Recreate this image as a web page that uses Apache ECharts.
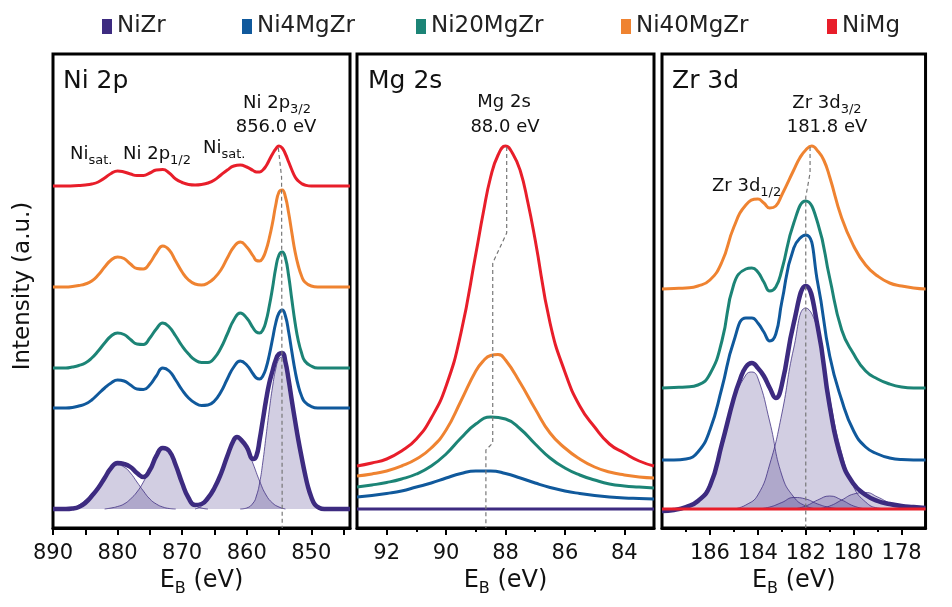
<!DOCTYPE html>
<html>
<head>
<meta charset="utf-8">
<script src="https://cdn.jsdelivr.net/npm/echarts@6/dist/echarts.min.js"></script>
<style>
  html, body { margin: 0; padding: 0; background: #fff; }
  #chart { width: 952px; height: 607px; }
</style>
</head>
<body>
<div id="chart"></div>
<script>
// ---- data: [binding energy (eV), intensity (a.u.)] ----
const sampleNames = ['NiZr', 'Ni4MgZr', 'Ni20MgZr', 'Ni40MgZr', 'NiMg'];
const sampleColors = ['#3d2b80', '#10599c', '#1c8476', '#ef8331', '#e81e2a'];

// Ni 2p
const ni2pNiZr = [[890,19],[888,19],[887,19.5],[886,21],[885,25],[884,32],[883,40],[882,50],[881,60],[880,65],[879,64],[878,61],[877,55],[876,51],[875,58],[874,72],[873,80],[872,77],[871,63],[870,45],[869,30],[868,23],[867,24],[866,30],[865,40],[864,54],[863,72],[862,88],[861.5,91],[861,89],[860,81],[859,69],[858.5,72],[858,88],[857.5,108],[857,128],[856.5,145],[856,157],[855.5,168],[855,174],[854.5,175],[854,166],[853.5,148],[853,127],[852.5,107],[852,88],[851.5,71],[851,55],[850.5,41],[850,31],[849.5,24],[849,21],[848,19],[844,19]];
const ni2pNi4 = [[890,120],[888,120],[887,120.5],[886,122],[885,124],[884,128],[883,134],[882,140],[881,145],[880,148],[879,147],[878,143],[877,139],[876,138.5],[875,143],[874,152],[873,160],[872,157],[871,148],[870,138],[869,130],[868,125],[867,122.5],[866,123],[865,127],[864,136],[863,149],[862,161],[861,167],[860,163],[859,154],[858.5,150],[858,149],[857.5,152],[857,160],[856.5,173],[856,189],[855.5,205],[855,215],[854.5,218],[854,212],[853.5,196],[853,176],[852.5,157],[852,142],[851.5,132],[851,126],[850,121.5],[849,120],[844,120]];
const ni2pNi20 = [[890,160],[888,160],[887,161],[886,162.5],[885,165],[884,170],[883,177],[882,185],[881,192],[880,195],[879,193.5],[878,188.5],[877,184],[876,183.5],[875,190],[874,199],[873,205],[872,201],[871,192],[870,182],[869,174],[868,168],[867,165.5],[866,165.5],[865,170],[864,180],[863,194],[862,208],[861,215],[860,210],[859,200],[858.5,196],[858,195],[857.5,198],[857,207],[856.5,222],[856,240],[855.5,260],[855,273],[854.5,276],[854,270],[853.5,252],[853,228],[852.5,205],[852,187],[851.5,175],[851,167],[850,162],[849,160],[844,160]];
const ni2pNi40 = [[890,241],[888,241],[887,241.5],[886,242.5],[885,244],[884,247],[883,253],[882,261],[881,268],[880,271],[879,269.5],[878,264],[877,259.5],[876,259],[875,265],[874,275],[873,282],[872,278],[871,267],[870,256],[869,248],[868,244],[867,243],[866,245],[865,250],[864,258],[863,270],[862,281],[861,286],[860,281],[859,272],[858.5,267.5],[858,267],[857.5,270],[857,278],[856.5,290],[856,305],[855.5,323],[855,336],[854.5,338],[854,331],[853.5,315],[853,295],[852.5,276],[852,262],[851.5,252],[851,246],[850,242],[849,241],[844,241]];
const ni2pNiMg = [[890,342],[888,342],[886,342.5],[885,343],[884,344],[883,346],[882,350],[881,354.5],[880,357],[879,356],[878,354],[877,352.5],[876,352.5],[875,355],[874,358],[873,358.5],[872,355],[871,349],[870,345.5],[869,343.5],[868,343],[867,343.5],[866,345],[865,348],[864,353],[863,358],[862,362],[861,363],[860,361],[859,357.5],[858.5,356],[858,356],[857.5,358],[857,362],[856.5,368],[856,374],[855.5,379],[855,382],[854.5,380],[854,374],[853.5,366],[853,358],[852.5,351],[852,347],[851.5,344.5],[851,343],[850,342],[844,342]];
// NiZr fitted components (Ni 2p)
const ni2pFit1 = [[888,19],[887,20],[886,23],[885,28],[884,34],[883,42],[882,50],[881,58],[880,63],[879,61],[878,55],[877,46],[876,37],[875,29],[874,24],[873,21],[872,19.5],[871,19]];
const ni2pFit2 = [[882,19],[881,20],[880,21.5],[879,24],[878,29],[877,36],[876,46],[875,59],[874,72],[873,80],[872,77],[871,63],[870,45],[869,31],[868,23],[867,20],[866,19]];
const ni2pFit3 = [[868,19],[867,22],[866,28],[865,38],[864,52],[863,70],[862,86],[861.5,90],[861,89],[860,80],[859,64],[858,47],[857,33],[856,25],[855,21],[854,19]];
const ni2pFit4 = [[861,19],[860,20],[859,25],[858.5,32],[858,45],[857.5,66],[857,92],[856.5,118],[856,141],[855.5,159],[855,169],[854.5,171],[854,163],[853.5,146],[853,125],[852.5,104],[852,86],[851.5,69],[851,53],[850.5,40],[850,31],[849.5,24],[849,21],[848,19]];
const ni2pGuide = [[855.1,380],[854.6,351],[854.5,0]];

// Mg 2s
const mg2sNiZr = [[93,19],[83,19]];
const mg2sNi4 = [[93,31],[92.5,32.5],[92,34.5],[91.5,37],[91,41],[90.5,45],[90,50],[89.5,54.5],[89,57],[88.5,57],[88,54.5],[87.5,50],[87,45],[86.5,40.5],[86,37],[85.5,34.5],[85,32.5],[84.5,31],[84,30],[83.5,29.5],[83,29]];
const mg2sNi20 = [[93,41],[92.5,43],[92,45.5],[91.5,49],[91,54],[90.5,62],[90,74],[89.5,90],[89,104],[88.5,111],[88,109],[87.5,99],[87,84],[86.5,70],[86,60],[85.5,53],[85,48],[84.5,44],[84,42],[83.5,41],[83,40]];
const mg2sNi40 = [[93,52],[92.5,54],[92,57],[91.5,62],[91,69],[90.5,80],[90,98],[89.5,127],[89,157],[88.75,167],[88.5,172.5],[88.25,173.5],[88,168],[87.5,145],[87,119],[86.5,95],[86,80],[85.5,69],[85,61],[84.5,56],[84,53],[83.5,51],[83,50]];
const mg2sNiMg = [[93,62],[92.5,65],[92,69],[91.5,77],[91,89],[90.5,110],[90,142],[89.5,195],[89,274],[88.75,315],[88.5,351],[88.25,373],[88,382],[87.75,374],[87.5,357],[87.25,326],[87,288],[86.5,205],[86,156],[85.5,122],[85,101],[84.5,84],[84,75],[83.5,67],[83,62]];
const mg2sGuide = [[87.96,381],[87.96,295],[88.43,265],[88.43,85],[88.66,78],[88.66,0]];

// Zr 3d
const zr3dNiZr = [[188,17],[187.5,18],[187,21],[186.5,27],[186,42],[185.5,84],[185,130],[184.75,148],[184.5,161],[184.25,165],[184,160],[183.75,152],[183.5,140],[183.25,130],[183,143],[182.5,205],[182,242],[181.5,201],[181,122],[180.5,68],[180,44],[179.5,33],[179,27],[178.5,24],[178,22],[177.5,21],[177,20]];
const zr3dNi4 = [[188,68],[187.5,68],[187,69],[186.5,76],[186,98],[185.5,140],[185,187],[184.5,210],[184.25,210],[184,205],[183.75,196],[183.5,187],[183.25,194],[183,226],[182.5,280],[182,293],[181.5,245],[181,172],[180.5,128],[180,97],[179.5,81],[179,74],[178.5,70],[178,68.5],[177,68]];
const zr3dNi20 = [[188,140],[187.5,140.5],[187,141],[186.5,143],[186,154],[185.5,187],[185,244],[184.5,259],[184.25,260],[184,256],[183.75,246],[183.5,237],[183.25,241],[183,258],[182.5,305],[182,327],[181.5,305],[181,250],[180.5,198],[180,174],[179.5,157],[179,149],[178.5,144],[178,141],[177.5,140],[177,140]];
const zr3dNi40 = [[188,239],[187.5,239.5],[187,240],[186.5,242],[186,248],[185.5,266],[185,301],[184.5,323],[184,329],[183.75,325],[183.5,320],[183.25,322],[183,333],[182.5,358],[182.25,370],[182,378],[181.75,382],[181.5,377],[181.25,368],[181,351],[180.5,310],[180,282],[179.5,263],[179,252],[178.5,245],[178,242],[177.5,240],[177,239]];
const zr3dNiMg = [[188,19],[177,19]];
// NiZr fitted components (Zr 3d)
const zr3dFit1 = [[185,19],[184.5,23],[184,33],[183.5,64],[183,114],[182.5,180],[182,220],[181.5,198],[181,130],[180.5,75],[180,41],[179.5,26],[179,20],[178.5,19]];
const zr3dFit2 = [[187.5,19],[187,21],[186.5,28],[186,45],[185.5,80],[185,127],[184.5,153],[184.25,156],[184,150],[183.5,106],[183,53],[182.5,31],[182,22],[181.5,19]];
const zr3dFit3 = [[184,19],[183.5,21],[183,25.5],[182.5,30.5],[182,29],[181.5,24],[181,20.5],[180.5,19]];
const zr3dFit4 = [[182.5,19],[182,22],[181.5,28],[181,32],[180.5,28],[180,22],[179.5,19]];
const zr3dFit5 = [[181.5,19],[181,22],[180.5,28],[180,34],[179.5,35.5],[179,31],[178.5,25],[178,20.5],[177.5,19]];
const zr3dGuide = [[181.82,381],[181.82,355],[182.0,331],[182.0,0]];

const fitBaseline = 19;

// tick labels
const ni2pTicks = [890, 880, 870, 860, 850];
const ni2pMinor = [885, 875, 865, 855, 845];
const mg2sTicks = [92, 90, 88, 86, 84];
const mg2sMinor = [91, 89, 87, 85];
const zr3dTicks = [186, 184, 182, 180, 178];
const zr3dMinor = [187, 185, 183, 181, 179];

// ---- chart ----
const font = 'DejaVu Sans';
const black = '#111';

function xAxes(gi, min, max, major, minor, minorLen) {
    return [{
        type: 'value', gridIndex: gi, min: min, max: max, inverse: true, position: 'bottom',
        axisLine: {onZero: false, lineStyle: {color: '#000', width: 3}},
        axisTick: {customValues: major, length: 7, lineStyle: {color: '#000', width: 2}},
        axisLabel: {customValues: major, margin: 15, fontSize: 21, fontFamily: font, color: black},
        splitLine: {show: false},
        name: '{e|E}{s|B}{e| (eV)}', nameLocation: 'middle', nameGap: 40,
        nameTextStyle: {
            rich: {
                e: {fontSize: 24, lineHeight: 24, fontFamily: font, color: black, verticalAlign: 'top'},
                s: {fontSize: 16, lineHeight: 16, fontFamily: font, color: black, verticalAlign: 'top', padding: [12, 0, 0, 0]}
            }
        }
    }, {
        type: 'value', gridIndex: gi, min: min, max: max, inverse: true, position: 'bottom',
        axisLine: {show: false},
        axisTick: {customValues: minor, length: minorLen, lineStyle: {color: '#000', width: 2}},
        axisLabel: {show: false},
        splitLine: {show: false}
    }];
}

function curve(gi, name, data, color, width) {
    return {
        name: name, type: 'line', xAxisIndex: gi * 2, yAxisIndex: gi, data: data,
        smooth: 0.5, symbol: 'none', color: color,
        lineStyle: {color: color, width: width || 3}, z: 3, animation: false
    };
}

function fit(gi, data) {
    return {
        type: 'line', xAxisIndex: gi * 2, yAxisIndex: gi, data: data,
        smooth: 0.5, symbol: 'none', silent: true, z: 2, animation: false,
        lineStyle: {color: '#3d2b80', width: 0.9, opacity: 0.85},
        areaStyle: {color: 'rgba(61,43,128,0.33)', origin: fitBaseline}
    };
}

function guide(gi, data) {
    return {
        type: 'line', xAxisIndex: gi * 2, yAxisIndex: gi, data: data,
        symbol: 'none', silent: true, z: 4, animation: false,
        lineStyle: {color: '#777', width: 1.2, type: [4, 3]}
    };
}

function label(x, y, text, size, align) {
    return {
        type: 'text', x: x, y: y, z: 10,
        style: {
            text: text, fill: black,
            fontSize: size, fontFamily: font,
            align: align || 'center', verticalAlign: 'middle',
            textAlign: align || 'center', textVerticalAlign: 'middle',
            rich: {
                m: {fontSize: size, lineHeight: size, fontFamily: font, fill: black, verticalAlign: 'top'},
                s: {fontSize: 13, lineHeight: 13, fontFamily: font, fill: black, verticalAlign: 'top', padding: [9, 0, 0, 0]}
            }
        }
    };
}

const panels = [
    [ni2pNiZr, ni2pNi4, ni2pNi20, ni2pNi40, ni2pNiMg],
    [mg2sNiZr, mg2sNi4, mg2sNi20, mg2sNi40, mg2sNiMg],
    [zr3dNiZr, zr3dNi4, zr3dNi20, zr3dNi40, zr3dNiMg]
];

const series = [];
series.push(fit(0, ni2pFit1), fit(0, ni2pFit2), fit(0, ni2pFit3), fit(0, ni2pFit4));
series.push(fit(2, zr3dFit1), fit(2, zr3dFit2), fit(2, zr3dFit3), fit(2, zr3dFit4), fit(2, zr3dFit5));
panels.forEach((curves, gi) => {
    curves.forEach((d, k) => {
        const envelope = (k === 0 && gi !== 1);
        series.push(curve(gi, sampleNames[k], d, sampleColors[k], envelope ? 4.5 : 3));
    });
});
series.push(guide(0, ni2pGuide), guide(1, mg2sGuide), guide(2, zr3dGuide));

const legendPos = [97, 237, 411, 616, 822];

const option = {
    backgroundColor: '#fff',
    animation: false,
    legend: sampleNames.map((n, i) => ({
        data: [n], left: legendPos[i], top: 10, icon: 'rect',
        itemWidth: 10, itemHeight: 15, selectedMode: false,
        textStyle: {fontSize: 23, fontFamily: font, color: '#222'}
    })),
    grid: [53, 357, 662].map(l => ({
        left: l, top: 54, width: 297, height: 474,
        show: true, borderColor: '#000', borderWidth: 3, backgroundColor: 'transparent'
    })),
    xAxis: [].concat(
        xAxes(0, 844, 890, ni2pTicks, ni2pMinor, 7),
        xAxes(1, 83, 93, mg2sTicks, mg2sMinor, 4),
        xAxes(2, 177, 188, zr3dTicks, zr3dMinor, 4)
    ),
    yAxis: [0, 1, 2].map(gi => ({type: 'value', gridIndex: gi, min: 0, max: 474, show: false})),
    series: series,
    graphic: [
        {
            type: 'text', x: 23, y: 286, rotation: Math.PI / 2,
            style: {text: 'Intensity (a.u.)', fill: black, fontSize: 23, fontFamily: font,
                    align: 'center', verticalAlign: 'middle', textAlign: 'center', textVerticalAlign: 'middle'}
        },
        label(63, 81, 'Ni 2p', 25, 'left'),
        label(368, 81, 'Mg 2s', 25, 'left'),
        label(672, 81, 'Zr 3d', 25, 'left'),
        label(277, 103, '{m|Ni 2p}{s|3/2}', 18),
        label(276, 127, '856.0 eV', 18),
        label(70, 154, '{m|Ni}{s|sat.}', 18, 'left'),
        label(123, 154, '{m|Ni 2p}{s|1/2}', 18, 'left'),
        label(203, 148, '{m|Ni}{s|sat.}', 18, 'left'),
        label(504, 102, 'Mg 2s', 18),
        label(505, 127, '88.0 eV', 18),
        label(827, 103, '{m|Zr 3d}{s|3/2}', 18),
        label(827, 127, '181.8 eV', 18),
        label(712, 186, '{m|Zr 3d}{s|1/2}', 18, 'left')
    ]
};

const chart = echarts.init(document.getElementById('chart'), null, {renderer: 'canvas'});
chart.setOption(option);
</script>
</body>
</html>
